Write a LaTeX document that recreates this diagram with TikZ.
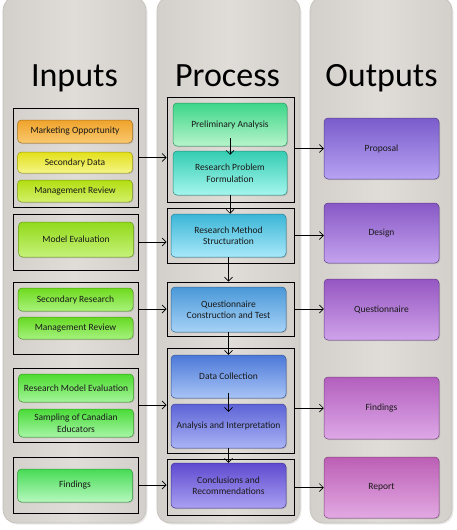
\documentclass[tikz,border=0pt]{standalone}
\usepackage{fontspec}
\setmainfont{Carlito}
\usetikzlibrary{arrows.meta,shadows}
\definecolor{colside}{RGB}{211,207,202}
\definecolor{colmid}{RGB}{224,221,217}
\definecolor{colrim}{RGB}{196,191,186}
\definecolor{moa}{HTML}{EFA32B}\definecolor{mob}{HTML}{F9C86E}
\definecolor{sda}{HTML}{E3E01A}\definecolor{sdb}{HTML}{F5F588}
\definecolor{mraa}{HTML}{B3DE12}\definecolor{mrab}{HTML}{D4F06A}
\definecolor{mea}{HTML}{92DA1A}\definecolor{meb}{HTML}{C6F27A}
\definecolor{sra}{HTML}{6EDB1E}\definecolor{srb}{HTML}{A9F27B}
\definecolor{mrba}{HTML}{66DA22}\definecolor{mrbb}{HTML}{A6F27E}
\definecolor{rmea}{HTML}{4EDB2E}\definecolor{rmeb}{HTML}{A3F59A}
\definecolor{scea}{HTML}{4ADB38}\definecolor{sceb}{HTML}{A6F6A6}
\definecolor{fia}{HTML}{47DB55}\definecolor{fib}{HTML}{B6F8BE}
\definecolor{paa}{HTML}{3CD68A}\definecolor{pab}{HTML}{B7F4C9}
\definecolor{rpa}{HTML}{34CDB3}\definecolor{rpb}{HTML}{A5F6EE}
\definecolor{rma}{HTML}{3BB6D6}\definecolor{rmb}{HTML}{A8E8FA}
\definecolor{qca}{HTML}{4A98D8}\definecolor{qcb}{HTML}{A6D2F7}
\definecolor{dca}{HTML}{4C79D8}\definecolor{dcb}{HTML}{A8C4F6}
\definecolor{aia}{HTML}{5D63D6}\definecolor{aib}{HTML}{A9B4F5}
\definecolor{cra}{HTML}{5E4ACF}\definecolor{crb}{HTML}{A9A0F2}
\definecolor{opa}{HTML}{7A5CCB}\definecolor{opb}{HTML}{B7A2F2}
\definecolor{oda}{HTML}{8858C6}\definecolor{odb}{HTML}{C4A3EE}
\definecolor{oqa}{HTML}{9556C2}\definecolor{oqb}{HTML}{D0A3EA}
\definecolor{ofa}{HTML}{B35FBE}\definecolor{ofb}{HTML}{DDA8E6}
\definecolor{orpa}{HTML}{BC5FB5}\definecolor{orpb}{HTML}{E2A9E2}
\begin{document}
\begin{tikzpicture}[x=1pt, y=-1pt,
    every node/.style={font=\fontsize{9.5}{11.5}\selectfont, align=center, text=black!90},
    col/.style={rounded corners=13pt, draw=colrim, line width=0.6pt, left color=colside, right color=colside, middle color=colmid,
        drop shadow={shadow xshift=1.5pt, shadow yshift=-1.5pt, opacity=0.15}},
    ttl/.style={font=\fontsize{34}{40}\selectfont, text=black, anchor=base},
    grp/.style={draw, line width=0.7pt, inner sep=0pt},
    bx/.style={rounded corners=4pt, draw=#1a!70!black, line width=0.5pt, top color=#1a, bottom color=#1b,
        inner sep=1pt, minimum width=115pt, drop shadow={shadow xshift=1pt, shadow yshift=-1pt, opacity=0.3}},
    arr/.style={-{Straight Barb[length=4pt,width=8pt]}, line width=0.7pt}]
    \useasboundingbox (0,0) rectangle (457,530);
    \path[col] (3,-3) rectangle (146,523);
    \path[col] (157,-3) rectangle (300,523);
    \path[col] (310,-3) rectangle (452,523);
    \node[ttl] (tin) at (74.5,86) {Inputs};
    \node[ttl] (tpr) at (227.5,86) {Process};
    \node[ttl] (tout) at (381.5,86) {Outputs};

    \node[grp, minimum width=125pt, minimum height=99pt] (g1) at (75.5,157.5) {};
    \node[grp, minimum width=125pt, minimum height=56pt] (g2) at (75.5,242) {};
    \node[grp, minimum width=125pt, minimum height=72pt] (g3) at (75.5,318) {};
    \node[grp, minimum width=125pt, minimum height=74pt] (g4) at (75.5,405) {};
    \node[grp, minimum width=125pt, minimum height=56pt] (g5) at (75.5,485) {};
    \node[bx=mo, minimum height=23pt] (mo) at (75,131.5) {Marketing Opportunity};
    \node[bx=sd, minimum height=21pt] (sd) at (75,162.5) {Secondary Data};
    \node[bx=mra, minimum height=22pt] (mra) at (75,191) {Management Review};
    \node[bx=me, minimum height=35pt] (me) at (76,239.5) {Model Evaluation};
    \node[bx=sr, minimum height=23pt] (sr) at (75.5,299.5) {Secondary Research};
    \node[bx=mrb, minimum height=22pt] (mrb) at (75.5,328) {Management Review};
    \node[bx=rme, minimum height=28pt] (rme) at (76,388) {Research Model Evaluation};
    \node[bx=sce, minimum height=28pt] (sce) at (76,423) {Sampling of Canadian\\Educators};
    \node[bx=fi, minimum height=33pt] (fi) at (75,485.5) {Findings};

    \node[grp, minimum width=127pt, minimum height=105pt] (p1) at (230.5,149.5) {};
    \node[grp, minimum width=127pt, minimum height=55pt] (p2) at (230.5,235.5) {};
    \node[grp, minimum width=127pt, minimum height=54pt] (p3) at (230.5,309) {};
    \node[grp, minimum width=127pt, minimum height=105pt] (p4) at (230.5,400.5) {};
    \node[grp, minimum width=127pt, minimum height=56pt] (p5) at (230.5,487) {};
    \node[bx=pa, minimum width=114pt, minimum height=43pt] (pa) at (230,124.5) {Preliminary Analysis};
    \node[bx=rp, minimum width=114pt, minimum height=44pt] (rp) at (230,173) {Research Problem\\Formulation};
    \node[bx=rm, minimum height=43pt] (rm) at (228.5,235.5) {Research Method\\Structuration};
    \node[bx=qc, minimum height=45pt] (qc) at (228.5,309.5) {Questionnaire\\Construction and Test};
    \node[bx=dc, minimum height=43pt] (dc) at (228.5,376.5) {Data Collection};
    \node[bx=ai, minimum height=44pt] (ai) at (228.5,426) {Analysis and Interpretation};
    \node[bx=cr, minimum height=45pt] (cr) at (228.5,485.5) {Conclusions and\\Recommendations};

    \node[bx=op, minimum height=61pt] (op) at (381.5,148.5) {Proposal};
    \node[bx=od, minimum height=60pt] (od) at (381.5,233) {Design};
    \node[bx=oq, minimum height=61pt] (oq) at (381.5,309.5) {Questionnaire};
    \node[bx=of, minimum height=62pt] (of) at (381.5,408) {Findings};
    \node[bx=orp, minimum height=61pt] (orp) at (381.5,487.5) {Report};

    \draw[arr] (g1.east) -- (g1.east -| p1.west);
    \draw[arr] (g2.east) -- (g2.east -| p2.west);
    \draw[arr] (g3.east |- p3.west) -- (p3.west);
    \draw[arr] (g4.east) -- (g4.east -| p4.west);
    \draw[arr] (g5.east) -- (g5.east -| p5.west);
    \draw[arr] (p1.east |- op.west) -- (op.west);
    \draw[arr] (p2.east) -- (p2.east -| od.west);
    \draw[arr] (p3.east) -- (p3.east -| oq.west);
    \draw[arr] (p4.east |- of.west) -- (of.west);
    \draw[arr] (p5.east |- orp.west) -- (orp.west);

    \draw[arr, shorten <=-8pt, shorten >=-4pt] (pa) -- (rp);
    \draw[arr] (rp.south) -- (rp.south |- rm.north);
    \draw[arr] (rm.south) -- (rm.south |- p3.north);
    \draw[arr] (qc.south) -- (qc.south |- dc.north);
    \draw[arr, shorten <=-5pt, shorten >=-8pt] (dc) -- (ai);
    \draw[arr] (ai) -- (cr);
\end{tikzpicture}
\end{document}
